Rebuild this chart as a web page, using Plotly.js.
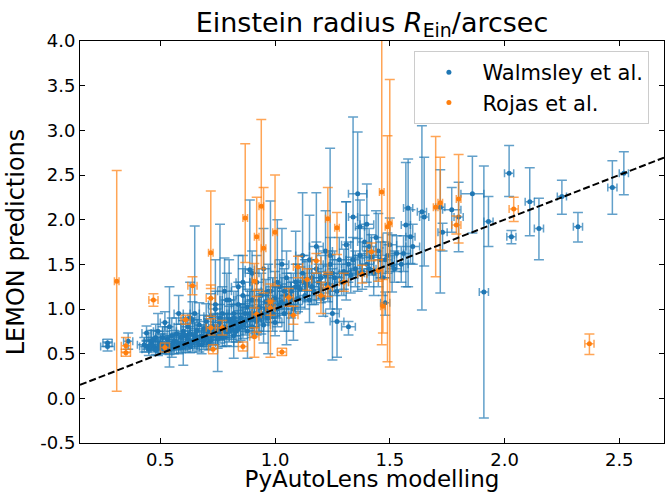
<!DOCTYPE html>
<html>
<head>
<meta charset="utf-8">
<script src="https://cdn.plot.ly/plotly-3.0.1.min.js"></script>
<style>html,body{margin:0;padding:0;background:#fff;}#chart{width:665px;height:492px;}</style>
</head>
<body>
<div id="chart"></div>
<script>
// Walmsley et al.: PyAutoLens x, LEMON y, y error (+), y error (-), x error
const walmsleyX = [0.27,0.27,0.36,0.54,0.65,0.76,0.89,0.98,1.01,1.09,1.24,1.25,1.27,1.31,1.32,1.34,1.36,1.37,1.31,1.41,1.45,1.48,1.51,1.58,1.57,1.59,1.64,1.65,1.72,1.73,1.77,1.80,1.86,1.91,1.93,2.02,2.03,2.11,2.15,2.25,2.32,2.47,2.52,
0.43,0.44,0.45,0.46,0.47,0.48,0.49,0.49,0.50,0.51,0.52,0.52,0.53,0.54,0.55,0.55,
0.56,0.57,0.58,0.58,0.59,0.60,0.60,0.61,0.62,0.62,0.63,0.64,0.64,0.65,0.66,0.66,0.67,0.68,0.68,0.69,0.70,0.70,
0.71,0.72,0.72,0.73,0.74,0.74,0.75,0.76,0.77,0.77,0.78,0.79,0.79,0.80,0.81,0.82,0.82,0.83,0.84,0.84,0.85,
0.86,0.86,0.87,0.88,0.88,0.89,0.90,0.90,0.91,0.92,0.92,0.93,0.94,0.94,0.95,0.96,0.97,0.97,0.98,0.99,1.00,1.00,
1.01,1.02,1.03,1.04,1.05,1.05,1.06,1.07,1.08,1.09,1.10,1.11,1.12,1.13,1.14,1.15,
1.16,1.17,1.18,1.19,1.20,1.21,1.22,1.23,1.24,1.26,1.27,1.28,1.29,1.30,
1.33,1.34,1.35,1.37,1.38,1.39,1.40,1.42,1.43,1.44,1.46,1.47,1.49,1.50,1.52,1.53,1.55,
0.80,0.84,0.90,1.12,1.18,1.40,1.56,1.60,
0.44,0.46,0.47,0.48,0.50,0.51,0.53,0.54,0.56,0.57,0.59,0.61,0.63,0.65,0.67,0.69,0.71,0.73,0.75,0.76,0.78,0.80,0.81,0.83,0.85,0.87,0.89,0.91,0.93,0.95,0.96,0.99,1.02,1.04,1.07,1.10,1.13,1.16,1.20,1.25,1.32,1.36,1.41,1.48,
0.63,0.74,0.78,0.86,0.95,1.03,1.15,1.22,0.60,0.82,1.05];
const walmsleyY = [0.58,0.62,0.64,0.80,0.95,0.90,1.44,1.20,1.30,1.25,1.60,0.95,0.86,1.40,0.80,2.03,2.29,1.92,1.72,1.70,1.65,1.07,1.49,2.13,1.94,1.81,2.09,2.03,2.14,1.86,2.11,2.03,2.29,1.19,1.98,2.52,1.81,2.20,1.90,2.26,1.92,2.36,2.52,
0.60,0.73,0.55,0.64,0.58,0.68,0.75,0.56,0.62,0.60,0.85,0.57,0.66,0.60,0.70,0.56,
0.64,0.72,0.60,0.95,0.68,0.75,0.62,0.70,0.80,0.66,0.72,0.62,0.88,0.70,0.76,0.64,0.82,0.70,0.60,0.78,0.68,0.86,
0.74,0.65,0.92,0.80,0.70,1.00,0.76,0.85,0.68,0.95,0.80,0.74,1.10,0.88,0.78,0.95,0.70,0.85,1.05,0.78,0.90,
0.82,1.15,0.95,0.75,1.02,0.88,1.10,0.80,0.95,1.30,0.86,1.02,0.92,1.15,0.82,1.00,1.20,0.90,1.05,0.95,1.12,0.85,
1.00,1.25,1.08,0.95,1.15,1.35,1.05,1.20,1.00,1.30,1.12,1.22,1.40,1.15,1.28,1.10,
1.35,1.20,1.45,1.30,1.22,1.12,1.38,1.28,1.50,1.35,1.20,1.55,1.30,1.42,
1.38,1.55,1.45,1.60,1.42,1.75,1.50,1.58,1.40,1.80,1.55,1.35,1.60,1.72,1.45,1.62,1.50,
1.10,1.25,1.40,1.60,1.70,1.95,1.62,1.70,
0.58,0.60,0.66,0.54,0.57,0.68,0.61,0.54,0.58,0.63,0.57,0.60,0.58,0.66,0.60,0.65,0.62,0.70,0.66,0.72,0.68,0.75,0.85,0.75,0.80,0.86,0.95,0.88,0.90,0.95,1.08,1.10,1.05,1.20,1.10,1.25,1.30,1.25,1.35,1.40,1.50,1.40,1.45,1.55,
0.90,1.05,1.20,1.30,1.45,1.50,1.55,1.65,0.72,0.90,1.05];
const walmsleyUp = [0.05,0.04,0.09,0.45,0.98,1.05,0.78,1.01,0.70,0.62,1.20,0.50,0.50,0.80,0.06,1.12,0.69,0.30,0.48,0.20,0.42,0.12,0.34,0.55,0.70,0.30,0.96,0.67,0.42,0.10,0.25,0.39,0.42,1.41,0.28,0.31,0.07,0.38,0.34,0.18,0.16,0.30,0.24,
0.08,0.08,0.10,0.12,0.07,0.15,0.20,0.08,0.10,0.12,0.12,0.06,0.14,0.10,0.20,0.08,
0.12,0.18,0.10,0.20,0.15,0.12,0.10,0.20,0.15,0.10,0.12,0.10,0.20,0.15,0.12,0.10,0.25,0.12,0.10,0.15,0.12,0.20,
0.15,0.10,0.25,0.15,0.12,0.20,0.18,0.20,0.12,0.30,0.15,0.20,0.30,0.15,0.12,0.25,0.12,0.20,0.25,0.20,0.15,
0.20,0.30,0.20,0.15,0.20,0.20,0.30,0.12,0.25,0.30,0.15,0.20,0.25,0.25,0.20,0.20,0.30,0.20,0.20,0.20,0.30,0.20,
0.25,0.30,0.20,0.20,0.25,0.30,0.20,0.20,0.25,0.20,0.20,0.25,0.20,0.20,0.25,0.15,
0.20,0.20,0.30,0.20,0.20,0.15,0.25,0.20,0.30,0.20,0.20,0.25,0.20,0.25,
0.20,0.25,0.20,0.30,0.20,0.30,0.20,0.25,0.20,0.30,0.20,0.20,0.25,0.30,0.20,0.20,0.20,
0.45,0.35,0.25,0.70,0.60,0.45,0.20,0.25,
0.06,0.08,0.10,0.06,0.07,0.12,0.08,0.06,0.08,0.10,0.07,0.08,0.07,0.12,0.08,0.10,0.10,0.12,0.10,0.15,0.12,0.15,0.20,0.12,0.15,0.20,0.25,0.20,0.15,0.20,0.25,0.25,0.20,0.25,0.20,0.25,0.25,0.20,0.25,0.25,0.25,0.20,0.20,0.20,
0.40,0.50,0.37,0.30,0.45,0.40,0.50,0.45,0.15,0.15,0.20];
const walmsleyDn = [0.05,0.04,0.09,0.45,0.30,0.25,0.40,0.35,0.40,0.30,0.60,0.52,0.40,0.30,0.09,0.60,0.50,0.35,0.30,0.25,0.40,0.14,0.30,0.88,0.69,0.30,1.10,0.55,0.96,0.21,0.25,0.39,0.44,1.41,0.28,0.26,0.08,0.38,0.35,0.20,0.17,0.30,0.24,
0.08,0.08,0.07,0.10,0.06,0.10,0.12,0.08,0.09,0.10,0.10,0.07,0.10,0.08,0.12,0.10,
0.10,0.10,0.10,0.12,0.12,0.12,0.08,0.15,0.10,0.10,0.10,0.10,0.15,0.12,0.12,0.10,0.15,0.12,0.10,0.12,0.10,0.12,
0.12,0.10,0.15,0.12,0.10,0.15,0.46,0.15,0.10,0.15,0.12,0.15,0.20,0.12,0.12,0.15,0.12,0.15,0.20,0.15,0.12,
0.15,0.20,0.15,0.30,0.15,0.12,0.20,0.12,0.15,0.20,0.15,0.15,0.20,0.20,0.20,0.15,0.20,0.40,0.15,0.20,0.20,0.15,
0.20,0.20,0.15,0.20,0.20,0.20,0.30,0.15,0.35,0.20,0.15,0.20,0.20,0.15,0.20,0.25,
0.20,0.15,0.20,0.20,0.15,0.20,0.20,0.20,0.25,0.20,0.20,0.20,0.15,0.20,
0.20,0.20,0.20,0.20,0.20,0.25,0.20,0.20,0.25,0.20,0.20,0.20,0.20,0.30,0.15,0.20,0.20,
0.25,0.30,0.30,0.30,0.30,0.30,0.20,0.20,
0.06,0.06,0.08,0.05,0.06,0.10,0.07,0.05,0.08,0.08,0.06,0.08,0.07,0.10,0.08,0.10,0.08,0.10,0.10,0.10,0.10,0.12,0.12,0.12,0.15,0.15,0.15,0.15,0.15,0.20,0.20,0.20,0.20,0.20,0.20,0.20,0.20,0.20,0.20,0.20,0.20,0.20,0.20,0.20,
0.20,0.25,0.25,0.30,0.30,0.30,0.30,0.30,0.35,0.45,0.45];
const walmsleyXe = [0.03,0.02,0.02,0.02,0.02,0.02,0.02,0.02,0.02,0.02,0.02,0.03,0.03,0.02,0.03,0.02,0.04,0.02,0.02,0.03,0.02,0.02,0.02,0.02,0.02,0.02,0.02,0.02,0.02,0.02,0.04,0.02,0.05,0.02,0.02,0.02,0.02,0.02,0.02,0.02,0.02,0.02,0.02,
0.03,0.02,0.03,0.03,0.02,0.03,0.02,0.03,0.03,0.02,0.02,0.03,0.03,0.02,0.03,0.03,
0.03,0.03,0.03,0.02,0.03,0.03,0.03,0.03,0.03,0.03,0.03,0.03,0.03,0.03,0.03,0.03,0.03,0.03,0.03,0.03,0.03,0.03,
0.03,0.03,0.03,0.03,0.03,0.03,0.03,0.03,0.03,0.03,0.03,0.03,0.03,0.03,0.03,0.03,0.03,0.03,0.03,0.03,0.03,
0.03,0.03,0.03,0.03,0.03,0.03,0.03,0.03,0.03,0.03,0.03,0.03,0.03,0.03,0.03,0.03,0.03,0.03,0.03,0.03,0.03,0.03,
0.03,0.03,0.03,0.03,0.03,0.03,0.03,0.03,0.03,0.03,0.03,0.03,0.03,0.03,0.03,0.03,
0.03,0.03,0.03,0.03,0.03,0.03,0.03,0.03,0.03,0.03,0.03,0.03,0.03,0.03,
0.03,0.03,0.03,0.03,0.03,0.03,0.03,0.03,0.03,0.03,0.03,0.03,0.03,0.03,0.03,0.03,0.03,
0.03,0.03,0.03,0.03,0.03,0.03,0.03,0.03,
0.03,0.03,0.03,0.03,0.03,0.03,0.03,0.03,0.03,0.03,0.03,0.03,0.03,0.03,0.03,0.03,0.03,0.03,0.03,0.03,0.03,0.03,0.03,0.03,0.03,0.03,0.03,0.03,0.03,0.03,0.03,0.03,0.03,0.03,0.03,0.03,0.03,0.03,0.03,0.03,0.03,0.03,0.03,0.03,
0.03,0.03,0.03,0.03,0.03,0.03,0.03,0.03,0.03,0.03,0.03];

// Rojas et al.
const rojasX = [0.31,0.35,0.35,0.47,0.52,0.61,0.64,0.72,0.72,0.73,0.72,0.77,0.86,0.87,0.92,0.94,0.95,1.00,0.91,0.98,0.92,0.98,0.91,1.03,1.06,1.08,1.10,1.14,1.18,1.20,1.23,1.27,1.30,1.38,1.42,1.465,1.50,1.49,1.47,1.45,1.70,1.72,1.79,1.80,2.04,2.37,1.23];
const rojasY = [1.31,0.59,0.51,1.10,0.57,0.88,1.26,1.63,1.12,0.55,0.79,0.79,0.58,2.02,1.81,2.15,1.68,1.86,1.31,1.08,0.94,1.01,0.69,0.52,1.13,0.93,1.47,1.33,1.54,1.15,2.01,1.91,1.30,1.39,1.64,2.31,1.96,1.92,1.03,1.43,2.14,2.19,1.94,2.23,2.12,0.61,1.24];
const rojasUp = [1.24,0.09,0.04,0.07,0.05,0.05,0.10,0.69,0.15,0.05,0.10,0.08,0.05,0.83,0.44,0.97,0.68,0.64,0.20,0.20,0.20,0.08,0.10,0.04,0.10,0.10,0.12,0.12,0.08,0.15,0.35,0.17,0.10,0.10,0.10,2.00,1.61,1.02,0.30,0.12,0.79,0.51,0.10,0.50,0.13,0.11,0.15];
const rojasDn = [1.23,0.07,0.04,0.07,0.05,0.05,0.10,0.40,0.20,0.05,0.08,0.08,0.05,0.50,0.60,0.70,0.50,0.60,0.30,0.62,0.20,0.08,0.23,0.04,0.10,0.10,0.12,0.12,0.14,0.20,0.60,0.30,0.10,0.10,0.10,1.71,1.61,1.51,0.30,0.12,0.78,0.53,0.10,0.49,0.14,0.12,0.10];
const rojasXe = [0.01,0.02,0.02,0.02,0.02,0.02,0.02,0.01,0.02,0.02,0.02,0.02,0.02,0.01,0.01,0.01,0.01,0.01,0.01,0.01,0.02,0.02,0.02,0.02,0.02,0.02,0.02,0.02,0.02,0.02,0.01,0.01,0.02,0.02,0.02,0.01,0.01,0.01,0.01,0.02,0.01,0.01,0.02,0.01,0.02,0.02,0.02];

const xRange = [0.15, 2.695];
const yRange = [-0.5, 4.0];
const xTicks = [0.5, 1.0, 1.5, 2.0, 2.5];
const xTickText = ['0.5', '1.0', '1.5', '2.0', '2.5'];
const yTicks = [-0.5, 0.0, 0.5, 1.0, 1.5, 2.0, 2.5, 3.0, 3.5, 4.0];
const yTickText = ['-0.5', '0.0', '0.5', '1.0', '1.5', '2.0', '2.5', '3.0', '3.5', '4.0'];

const blue = '#1f77b4', orange = '#ff7f0e';
function errTrace(name, x, y, up, dn, xe, color, rgba) {
  return {
    type: 'scatter', mode: 'markers', name: name, x: x, y: y,
    marker: {color: color, size: 5},
    error_y: {type: 'data', symmetric: false, array: up, arrayminus: dn, color: rgba, thickness: 1.5, width: 5},
    error_x: {type: 'data', array: xe, color: rgba, thickness: 1.5, width: 4},
    cliponaxis: true
  };
}
const traces = [
  errTrace('Walmsley et al.', walmsleyX, walmsleyY, walmsleyUp, walmsleyDn, walmsleyXe, blue, 'rgba(31,119,180,0.7)'),
  errTrace('Rojas et al.', rojasX, rojasY, rojasUp, rojasDn, rojasXe, orange, 'rgba(255,127,14,0.7)'),
  {type: 'scatter', mode: 'lines', x: xRange, y: xRange, showlegend: false,
   line: {color: 'black', width: 2, dash: '7px,3px'}}
];
const axisCommon = {showline: true, linecolor: 'black', linewidth: 1, mirror: 'allticks', ticks: 'inside', ticklen: 5,
  tickcolor: 'black', showgrid: false, zeroline: false, tickfont: {family: 'DejaVu Sans', size: 18, color: 'black'}};
const layout = {
  width: 665, height: 492,
  margin: {l: 80, r: 1, t: 41, b: 49},
  paper_bgcolor: 'white', plot_bgcolor: 'white',
  font: {family: 'DejaVu Sans', color: 'black'},
  title: {text: 'Einstein radius <i>R</i><sub>Ein</sub>/arcsec', font: {size: 27, family: 'DejaVu Sans'},
    x: 0.5, xref: 'paper', xanchor: 'center', y: 0.955, yref: 'container', yanchor: 'middle'},
  xaxis: Object.assign({}, axisCommon, {range: xRange, tickvals: xTicks, ticktext: xTickText,
    title: {text: 'PyAutoLens modelling', font: {size: 23}, standoff: 8}}),
  yaxis: Object.assign({}, axisCommon, {range: yRange, tickvals: yTicks, ticktext: yTickText,
    title: {text: 'LEMON predictions', font: {size: 24}, standoff: 8}}),
  legend: {x: 0.975, y: 0.975, xanchor: 'right', yanchor: 'top', bgcolor: 'rgba(255,255,255,0.8)',
    bordercolor: '#cccccc', borderwidth: 1, font: {size: 21}, itemwidth: 57},
  showlegend: true
};
Plotly.newPlot('chart', traces, layout, {displayModeBar: false, staticPlot: true});
</script>
</body>
</html>
